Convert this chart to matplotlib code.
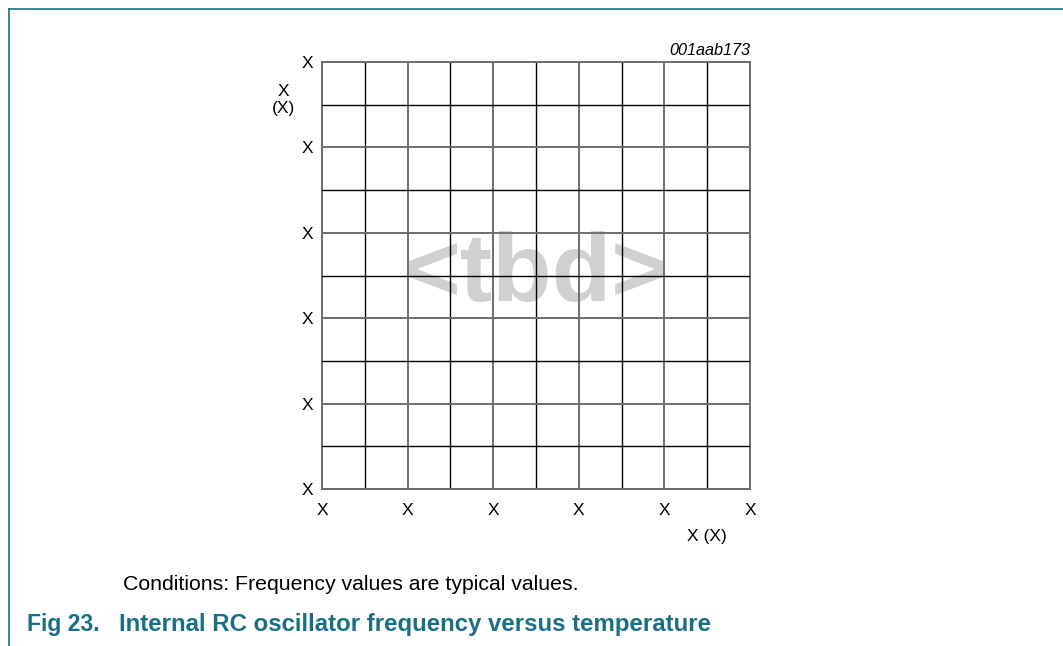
import matplotlib
matplotlib.use("Agg")
import matplotlib.pyplot as plt
from matplotlib.lines import Line2D

plt.rcParams['font.family'] = ['Liberation Sans', 'DejaVu Sans']

# placeholder chart: grid only, labels are "X"
x_ticks = [0, 1, 2, 3, 4, 5]
y_ticks = [0, 1, 2, 3, 4, 5]
x_ticklabels = ["X"] * 6
y_ticklabels = ["X"] * 6
x_label = "X (X)"
y_label = "X\n(X)"
code = "001aab173"
note = "Conditions: Frequency values are typical values."
fig_no = "Fig 23."
caption = "Internal RC oscillator frequency versus temperature"

W, H = 1063, 646
teal = "#1a6f84"

fig = plt.figure(figsize=(W / 100, H / 100), dpi=100)

# page frame (top + left rule)
fig.add_artist(Line2D([9 / W, 1], [1 - 9 / H, 1 - 9 / H], color=teal, lw=1.2))
fig.add_artist(Line2D([9 / W, 9 / W], [0, 1 - 9 / H], color=teal, lw=1.2))

ax = fig.add_axes([322 / W, 1 - 489 / H, 428 / W, 427 / H])
ax.set_xlim(x_ticks[0], x_ticks[-1])
ax.set_ylim(y_ticks[0], y_ticks[-1])
ax.set_xticks(x_ticks)
ax.set_yticks(y_ticks)
ax.set_xticks([v + 0.5 for v in x_ticks[:-1]], minor=True)
ax.set_yticks([v + 0.5 for v in y_ticks[:-1]], minor=True)
ax.set_xticklabels(x_ticklabels, fontsize=12.5)
ax.set_yticklabels(y_ticklabels, fontsize=12.5)
ax.tick_params(which="both", length=0)
ax.tick_params(axis="x", pad=10)
ax.tick_params(axis="y", pad=6.5)
ax.grid(which="major", color="#6e6e6e", lw=1.4)
ax.grid(which="minor", color="black", lw=1.0)
for s in ax.spines.values():
    s.set_color("#6e6e6e")
    s.set_linewidth(1.4)
ax.set_axisbelow(False)

ax.text(0.5, 0.5, "<tbd>", transform=ax.transAxes, ha="center", va="center",
        fontsize=70, fontweight="bold", color="#d0d0d0", zorder=0)
fig.text(750 / W, 1 - 55 / H, code, ha="right", va="baseline",
         fontsize=11.7, style="italic")

fig.text(707 / W, 1 - 536 / H, x_label, ha="center", va="center", fontsize=12.5)
fig.text(283 / W, 1 - 100 / H, y_label, ha="center", va="center", fontsize=12.5,
         linespacing=1.1)

fig.text(123 / W, 1 - 585 / H, note, ha="left", va="center", fontsize=15.3)
fig.text(27 / W, 1 - 625 / H, fig_no, ha="left", va="center", fontsize=16.5,
         fontweight="bold", color=teal)
fig.text(119 / W, 1 - 625 / H, caption, ha="left", va="center", fontsize=17.3,
         fontweight="bold", color=teal)

fig.savefig("out.png", dpi=100)
